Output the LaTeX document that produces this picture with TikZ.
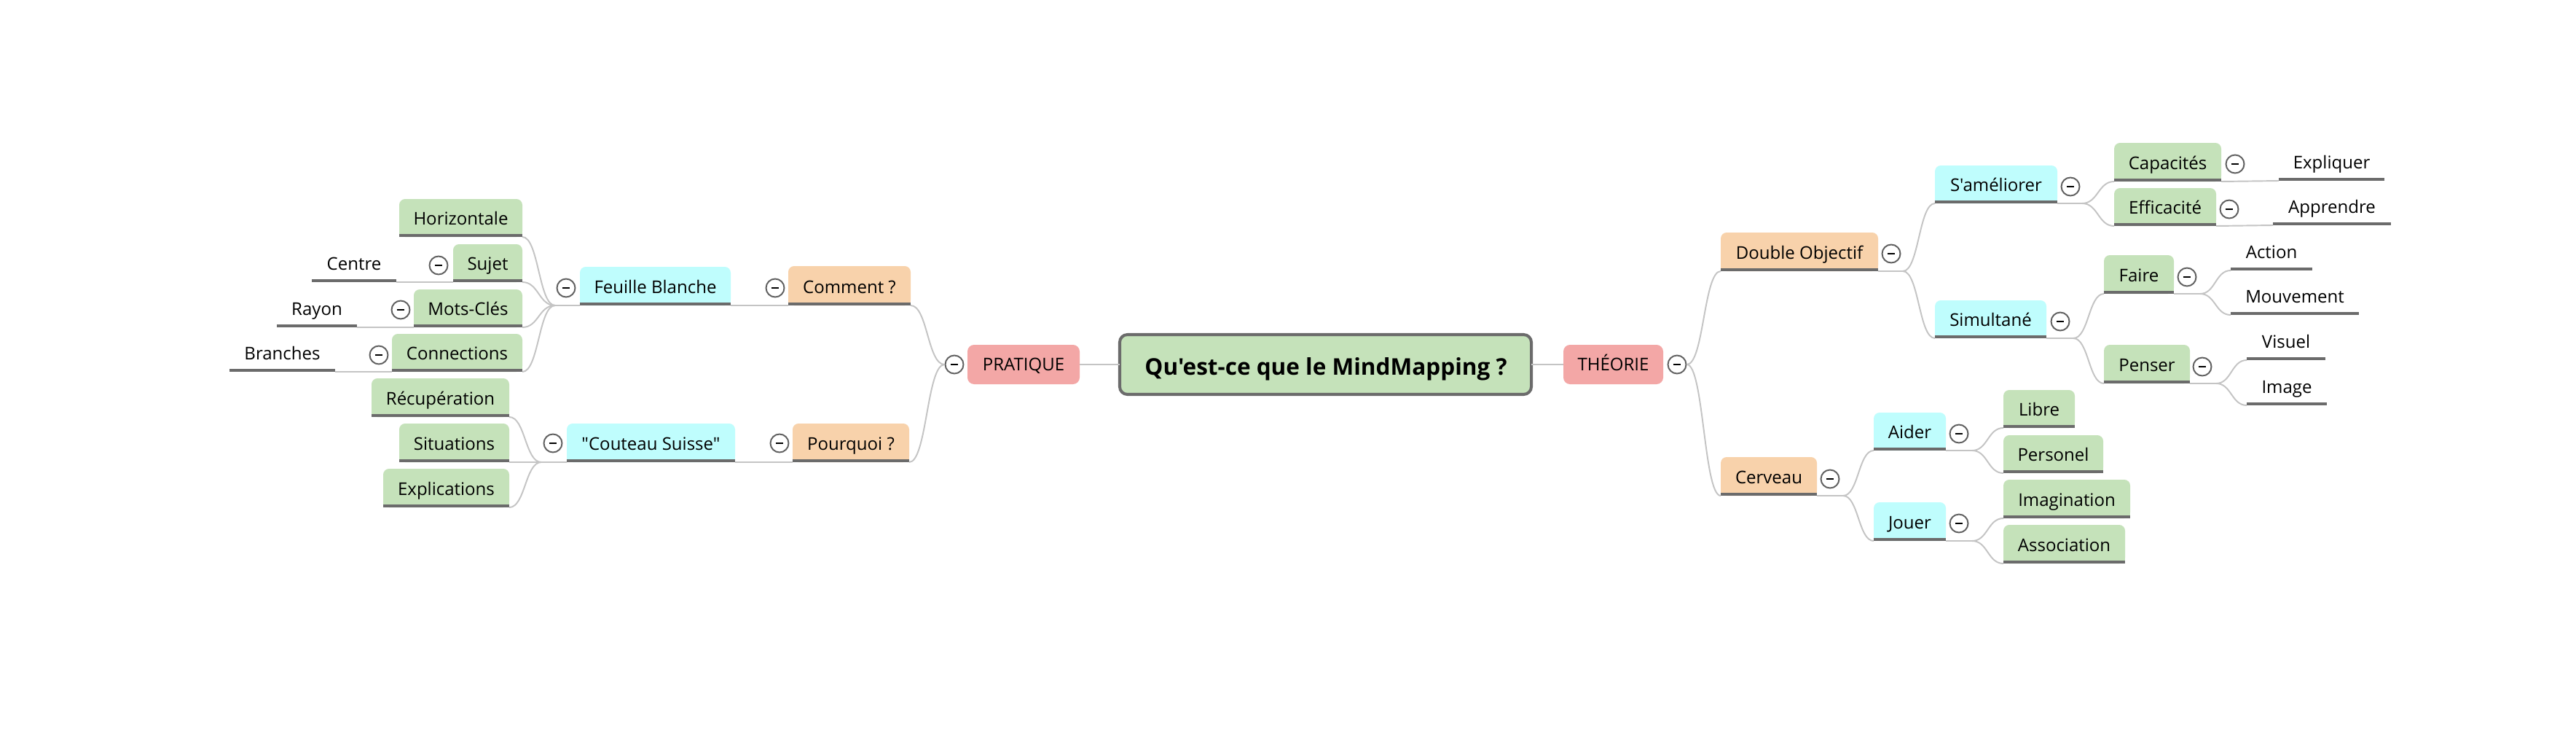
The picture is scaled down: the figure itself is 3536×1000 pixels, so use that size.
\documentclass[tikz,border=0pt]{standalone}
\usepackage{fontspec}
\setmainfont{Open Sans}[Ligatures=TeXOff]
\usetikzlibrary{calc,fit}
\definecolor{cgreen}{RGB}{197,226,186}
\definecolor{corange}{RGB}{248,210,171}
\definecolor{ccyan}{RGB}{191,253,253}
\definecolor{cpink}{RGB}{243,167,166}
\definecolor{culine}{RGB}{107,107,107}
\definecolor{cconn}{RGB}{196,196,196}
\definecolor{ccirc}{RGB}{95,95,95}
\newcommand\tsz{\fontsize{6.83pt}{8pt}\selectfont}
\newcommand\tbox[7]{%
  \fill[#6, rounded corners=2.3pt] (#2,#3) rectangle (#4,#5);
  \fill[#6] (#2,{(#3+#5)/2}) rectangle (#4,#5);
  \draw[uline] (#2,{#5-1.8}) -- (#4,{#5-1.8});
  \node[boxnode, fit={(#2,#3) (#4,#5)}] (#1) {};
  \node[txt] (#1t) at ({(#2+#4)/2},{#5-17}) {#7};
}
\newcommand\leaf[5]{%
  \draw[uline] (#2,{#4-1.8}) -- (#3,{#4-1.8});
  \node[boxnode, fit={(#2,{#4-40}) (#3,#4)}] (#1) {};
  \node[txt] (#1t) at ({(#2+#3)/2},{#4-17}) {#5};
}
\newcommand\coll[3]{\node[collapse] (#1) at (#2,#3) {};}
\newcommand\crv[2]{\draw[conn] (#1) .. controls ($(#1)!0.5!(#1-|#2)$) and ($(#2)!0.5!(#2-|#1)$) .. (#2);}
\tikzset{
  conn/.style={draw=cconn, line width=0.55pt},
  uline/.style={draw=culine, line width=1.05pt},
  boxnode/.style={inner sep=0pt, outer sep=0pt},
  txt/.style={font=\tsz, inner sep=0pt, anchor=base},
  collapse/.style={circle, draw=ccirc, fill=white, line width=0.55pt, minimum size=7.1pt, inner sep=0pt,
    path picture={\draw[black, line width=0.6pt] ([xshift=-1.55pt]path picture bounding box.center) -- ([xshift=1.55pt]path picture bounding box.center);}},
}
\begin{document}
\begin{tikzpicture}[x=0.01cm,y=-0.01cm]
\useasboundingbox (0,0) rectangle (3536,1000);
\fill[white] (0,0) rectangle (3536,1000);

% central topic
\node[fit={(1537,459) (2102,541)}, inner sep=0pt, outer sep=0pt, draw=culine, line width=1.15pt, fill=cgreen, rounded corners=3pt] (ctr) {};
\node[font=\fontsize{8.96pt}{10pt}\selectfont\bfseries, inner sep=0pt, anchor=base] (ctrt) at (1820,514) {Qu'est-ce que le MindMapping ?};

% main topics
\node[fit={(1328,473) (1482,527)}, inner sep=0pt, outer sep=0pt, fill=cpink, rounded corners=2.6pt] (pra) {};
\node[txt] (prat) at (1405,508) {PRATIQUE};
\coll{praC}{1310}{500}
\node[fit={(2146,473) (2283,527)}, inner sep=0pt, outer sep=0pt, fill=cpink, rounded corners=2.6pt] (the) {};
\node[txt] (thet) at (2214.5,508) {THÉORIE};
\coll{theC}{2302}{500}

% left side
\tbox{com}{1082}{365}{1250}{419}{corange}{Comment ?}
\coll{comC}{1064}{395}
\tbox{pq}{1088}{581}{1248}{634}{corange}{Pourquoi ?}
\coll{pqC}{1070}{608}
\tbox{fb}{796}{366}{1003}{419}{ccyan}{Feuille Blanche}
\coll{fbC}{777}{395}
\tbox{cs}{778}{581}{1009}{634}{ccyan}{"Couteau Suisse"}
\coll{csC}{759}{608}
\tbox{hor}{548}{273}{717}{325}{cgreen}{Horizontale}
\tbox{suj}{622}{335}{717}{387}{cgreen}{Sujet}
\coll{sujC}{602}{364}
\tbox{mot}{568}{397}{717}{449}{cgreen}{Mots-Clés}
\coll{motC}{550}{425}
\tbox{cnx}{538}{458}{717}{510}{cgreen}{Connections}
\coll{cnxC}{520}{487}
\leaf{cen}{428}{544}{387}{Centre}
\leaf{ray}{380}{490}{449}{Rayon}
\leaf{bra}{315}{460}{510}{Branches}
\tbox{rec}{510}{519}{699}{572}{cgreen}{Récupération}
\tbox{sit}{548}{581}{699}{634}{cgreen}{Situations}
\tbox{exl}{526}{643}{699}{696}{cgreen}{Explications}

% right side
\tbox{dbl}{2362}{319}{2578}{372}{corange}{Double Objectif}
\coll{dblC}{2596}{348}
\tbox{cer}{2362}{627}{2494}{680}{corange}{Cerveau}
\coll{cerC}{2512}{657}
\tbox{sam}{2656}{227}{2824}{279}{ccyan}{S'améliorer}
\coll{samC}{2842}{256}
\tbox{sim}{2656}{412}{2809}{464}{ccyan}{Simultané}
\coll{simC}{2828}{441}
\tbox{aid}{2572}{566}{2671}{618}{ccyan}{Aider}
\coll{aidC}{2689}{595}
\tbox{jou}{2572}{689}{2671}{742}{ccyan}{Jouer}
\coll{jouC}{2689}{718}
\tbox{cap}{2902}{196}{3049}{249}{cgreen}{Capacités}
\coll{capC}{3068}{225}
\tbox{eff}{2902}{258}{3042}{310}{cgreen}{Efficacité}
\coll{effC}{3060}{287}
\tbox{fai}{2888}{350}{2984}{403}{cgreen}{Faire}
\coll{faiC}{3002}{380}
\tbox{pen}{2888}{473}{3006}{526}{cgreen}{Penser}
\coll{penC}{3023}{503}
\tbox{lib}{2750}{535}{2848}{587}{cgreen}{Libre}
\tbox{per}{2750}{597}{2887}{649}{cgreen}{Personel}
\tbox{ima}{2750}{658}{2924}{711}{cgreen}{Imagination}
\tbox{ass}{2750}{720}{2917}{773}{cgreen}{Association}
\leaf{exq}{3128}{3273}{248}{Expliquer}
\leaf{app}{3120}{3282}{309}{Apprendre}
\leaf{act}{3062}{3174}{371}{Action}
\leaf{mou}{3062}{3238}{432}{Mouvement}
\leaf{vis}{3084}{3192}{494}{Visuel}
\leaf{img}{3084}{3194}{556}{Image}

% junctions
\coordinate (fbJ) at (762,419);
\coordinate (csJ) at (743,634);
\coordinate (dblJ) at (2612,372);
\coordinate (cerJ) at (2530,680);
\coordinate (samJ) at (2858,279);
\coordinate (simJ) at (2846,464);
\coordinate (aidJ) at (2707,618);
\coordinate (jouJ) at (2707,742);
\coordinate (faiJ) at (3020,403);
\coordinate (penJ) at (3042,526);

% connectors
\draw[conn] (pra.east) -- (ctr.west);
\draw[conn] (ctr.east) -- (the.west);
\crv{praC.west}{com.south east}
\crv{praC.west}{pq.south east}
\draw[conn] (com.south west) -- (fb.south east);
\draw[conn] (pq.south west) -- (cs.south east);
\draw[conn] (fb.south west) -- (fbJ);
\crv{fbJ}{hor.south east}
\crv{fbJ}{suj.south east}
\crv{fbJ}{mot.south east}
\crv{fbJ}{cnx.south east}
\draw[conn] (suj.south west) -- (cen.south east);
\draw[conn] (mot.south west) -- (ray.south east);
\draw[conn] (cnx.south west) -- (bra.south east);
\draw[conn] (cs.south west) -- (csJ);
\crv{csJ}{rec.south east}
\crv{csJ}{sit.south east}
\crv{csJ}{exl.south east}

\crv{theC.east}{dbl.south west}
\crv{theC.east}{cer.south west}
\draw[conn] (dbl.south east) -- (dblJ);
\crv{dblJ}{sam.south west}
\crv{dblJ}{sim.south west}
\draw[conn] (cer.south east) -- (cerJ);
\crv{cerJ}{aid.south west}
\crv{cerJ}{jou.south west}
\draw[conn] (sam.south east) -- (samJ);
\crv{samJ}{cap.south west}
\crv{samJ}{eff.south west}
\draw[conn] (sim.south east) -- (simJ);
\crv{simJ}{fai.south west}
\crv{simJ}{pen.south west}
\draw[conn] (aid.south east) -- (aidJ);
\crv{aidJ}{lib.south west}
\crv{aidJ}{per.south west}
\draw[conn] (jou.south east) -- (jouJ);
\crv{jouJ}{ima.south west}
\crv{jouJ}{ass.south west}
\draw[conn] (cap.south east) -- (exq.south west);
\draw[conn] (eff.south east) -- (app.south west);
\draw[conn] (fai.south east) -- (faiJ);
\crv{faiJ}{act.south west}
\crv{faiJ}{mou.south west}
\draw[conn] (pen.south east) -- (penJ);
\crv{penJ}{vis.south west}
\crv{penJ}{img.south west}
\end{tikzpicture}
\end{document}
